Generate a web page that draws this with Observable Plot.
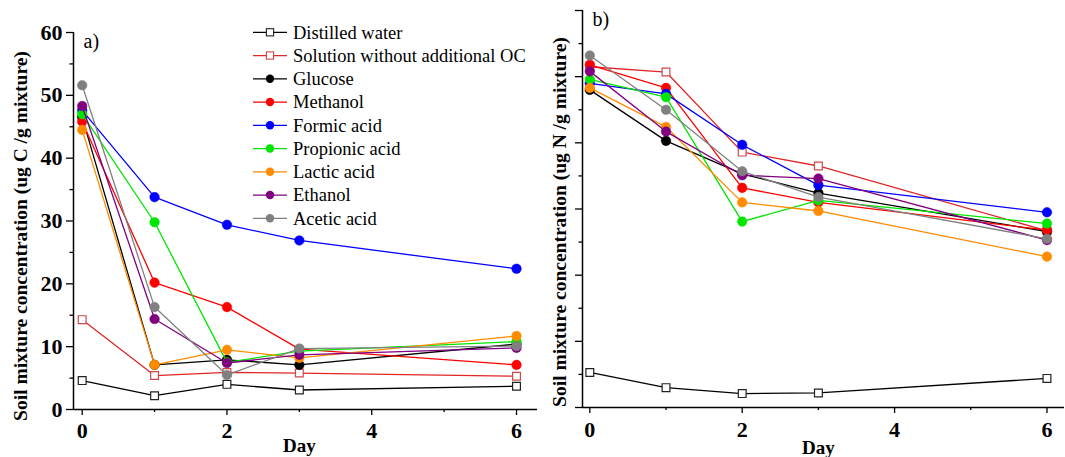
<!DOCTYPE html>
<html>
<head>
<meta charset="utf-8">
<script src="https://cdn.jsdelivr.net/npm/d3@7"></script>
<script src="https://cdn.jsdelivr.net/npm/@observablehq/plot@0.6"></script>
<style>
  html, body { margin: 0; padding: 0; background: #fff; }
  #wrap { position: relative; width: 1065px; height: 457px; overflow: hidden; font-family: "Liberation Serif", "Times New Roman", serif; }
  #left, #right, #legend { position: absolute; top: 0; }
  #left { left: 0; }
  #right { left: 545px; }
  #legend { left: 0; }
</style>
</head>
<body>
<div id="wrap"><div id="left"></div><div id="right"></div><svg id="legend" width="560" height="240"></svg></div>
<script>
// ---- data ----
const days = [0, 1, 2, 3, 6];
const seriesNames = ["Distilled water", "Solution without additional OC", "Glucose", "Methanol", "Formic acid", "Propionic acid", "Lactic acid", "Ethanol", "Acetic acid"];
const lineColors = ["#000000", "#e02626", "#000000", "#ff0000", "#0000ff", "#00e600", "#ff8c00", "#800080", "#808080"];
const markerColors = ["#222222", "#cc4a4a", "#000000", "#ff0000", "#0000ff", "#00e600", "#ff8c00", "#800080", "#808080"];
const openMarkers = [true, true, false, false, false, false, false, false, false];

// panel a) carbon, ug C / g mixture
const cDistilled = [4.6, 2.2, 4.0, 3.1, 3.7];
const cSolution = [14.3, 5.4, 5.9, 5.8, 5.3];
const cGlucose = [46.5, 7.1, 7.9, 7.1, 10.4];
const cMethanol = [45.8, 20.2, 16.3, 9.6, 7.1];
const cFormic = [47.6, 33.8, 29.4, 26.9, 22.4];
const cPropionic = [47.0, 29.8, 7.5, 9.3, 10.8];
const cLactic = [44.5, 7.1, 9.5, 8.2, 11.7];
const cEthanol = [48.3, 14.4, 7.4, 8.7, 9.8];
const cAcetic = [51.6, 16.3, 5.5, 9.7, 10.1];

// panel b) nitrogen, ug N / g mixture (axis unlabelled)
const nDistilled = [5.3, 3.0, 2.1, 2.2, 4.4];
const nSolution = [51.5, 50.7, 38.6, 36.5, 26.7];
const nGlucose = [48.0, 40.3, 35.3, 32.4, 26.6];
const nMethanol = [51.8, 48.3, 33.2, 31.0, 26.8];
const nFormic = [49.0, 47.4, 39.7, 33.6, 29.5];
const nPropionic = [49.6, 46.9, 28.1, 31.3, 27.8];
const nLactic = [48.3, 42.4, 31.0, 29.7, 22.8];
const nEthanol = [50.8, 41.7, 35.1, 34.6, 25.3];
const nAcetic = [53.2, 45.0, 35.7, 31.8, 25.5];

const carbonSeries = [cDistilled, cSolution, cGlucose, cMethanol, cFormic, cPropionic, cLactic, cEthanol, cAcetic];
const nitrogenSeries = [nDistilled, nSolution, nGlucose, nMethanol, nFormic, nPropionic, nLactic, nEthanol, nAcetic];

const xMajorTicks = [0, 2, 4, 6];
const xMinorTicks = [1, 3, 5];
const yMajorTicks = [0, 10, 20, 30, 40, 50, 60];
const yMinorTicks = [5, 15, 25, 35, 45, 55];
const yLabelA = "Soil mixture concentration (ug C /g mixture)";
const yLabelB = "Soil mixture concentration (ug N /g mixture)";

const FONT = "Liberation Serif, Times New Roman, serif";

function seriesMarks(seriesValues) {
  const marks = [];
  seriesValues.forEach((vals, si) => {
    const rows = days.map((d, i) => ({day: d, value: vals[i]}));
    marks.push(Plot.line(rows, {x: "day", y: "value", stroke: lineColors[si], strokeWidth: 1.3}));
    if (openMarkers[si]) {
      marks.push(Plot.dot(rows, {x: "day", y: "value", symbol: "square", r: 4.4, fill: "white", stroke: markerColors[si], strokeWidth: 1.2}));
    } else {
      marks.push(Plot.dot(rows, {x: "day", y: "value", r: 4.8, fill: markerColors[si], stroke: markerColors[si], strokeWidth: 0.5}));
    }
  });
  return marks;
}

function panel({width, marginLeft, marginRight, marginTop, marginBottom, xDomain, seriesValues, yTickLabels, panelLabel, yLabel, yLabelDx, yLabelDy, dayDy, xTickPad}) {
  return Plot.plot({
    width, height: 457, marginLeft, marginRight, marginTop, marginBottom,
    style: {fontFamily: FONT, fontSize: "22px", fontWeight: "bold", color: "black", background: "white", overflow: "visible"},
    x: {domain: xDomain},
    y: {domain: [0, 60]},
    marks: [
      Plot.ruleX([xDomain[0]], {stroke: "black", strokeWidth: 1.5}),
      Plot.ruleY([0], {stroke: "black", strokeWidth: 1.5}),
      Plot.axisX({ticks: xMajorTicks, tickSize: 6, tickPadding: xTickPad, label: null, tickFormat: (d) => String(d), fontSize: 22, fontWeight: "bold", fontFamily: FONT, strokeWidth: 1.3}),
      Plot.axisX({ticks: xMinorTicks, tickSize: 3, tickFormat: () => "", label: null, strokeWidth: 1.3}),
      Plot.axisY({ticks: yMajorTicks, tickSize: 7, tickPadding: 4, label: null, fontSize: 22, fontWeight: "bold", fontFamily: FONT, strokeWidth: 1.3, tickFormat: yTickLabels ? (d) => String(d) : () => ""}),
      Plot.axisY({ticks: yMinorTicks, tickSize: 3.5, tickFormat: () => "", label: null, strokeWidth: 1.3}),
      Plot.text([yLabel], {text: (d) => d, frameAnchor: "left", textAnchor: "middle", lineAnchor: "middle", rotate: -90, dx: yLabelDx, dy: yLabelDy, fontSize: 19.5, fontWeight: "bold", fontFamily: FONT}),
      Plot.text(["Day"], {text: (d) => d, x: () => 3, frameAnchor: "bottom", lineAnchor: "middle", dy: dayDy, fontSize: 19, fontWeight: "bold", fontFamily: FONT}),
      Plot.text([panelLabel], {text: (d) => d, frameAnchor: "top-left", dx: 10, dy: 1, fontSize: 20, fontWeight: "normal", fontFamily: FONT}),
      ...seriesMarks(seriesValues)
    ]
  });
}

document.getElementById("left").appendChild(panel({
  width: 545, marginLeft: 73, marginRight: 8, marginTop: 32, marginBottom: 48,
  xDomain: [-0.12, 6.29], seriesValues: carbonSeries, yTickLabels: true,
  panelLabel: "a)", yLabel: yLabelA, yLabelDx: -53, yLabelDy: 15, dayDy: 36, xTickPad: 7
}));

document.getElementById("right").appendChild(panel({
  width: 520, marginLeft: 37, marginRight: 1, marginTop: 10, marginBottom: 50,
  xDomain: [-0.096, 6.23], seriesValues: nitrogenSeries, yTickLabels: false,
  panelLabel: "b)", yLabel: yLabelB, yLabelDx: -23, yLabelDy: 13, dayDy: 40, xTickPad: 8
}));

// ---- legend ----
const lg = d3.select("#legend");
const rowY = (i) => 32.3 + i * 23.25;
seriesNames.forEach((name, i) => {
  const g = lg.append("g").attr("transform", `translate(0,${rowY(i)})`);
  g.append("line").attr("x1", 253).attr("x2", 287).attr("y1", 0).attr("y2", 0)
    .attr("stroke", lineColors[i]).attr("stroke-width", 1.3);
  if (openMarkers[i]) {
    g.append("rect").attr("x", 270 - 3.6).attr("y", -3.6).attr("width", 7.2).attr("height", 7.2)
      .attr("fill", "white").attr("stroke", markerColors[i]).attr("stroke-width", 1.1);
  } else {
    g.append("circle").attr("cx", 270).attr("cy", 0).attr("r", 4.2).attr("fill", markerColors[i]);
  }
  g.append("text").attr("x", 293).attr("y", 0).attr("dy", "0.34em")
    .attr("font-family", FONT).attr("font-size", 18.5).attr("fill", "black").text(name);
});
</script>
</body>
</html>
